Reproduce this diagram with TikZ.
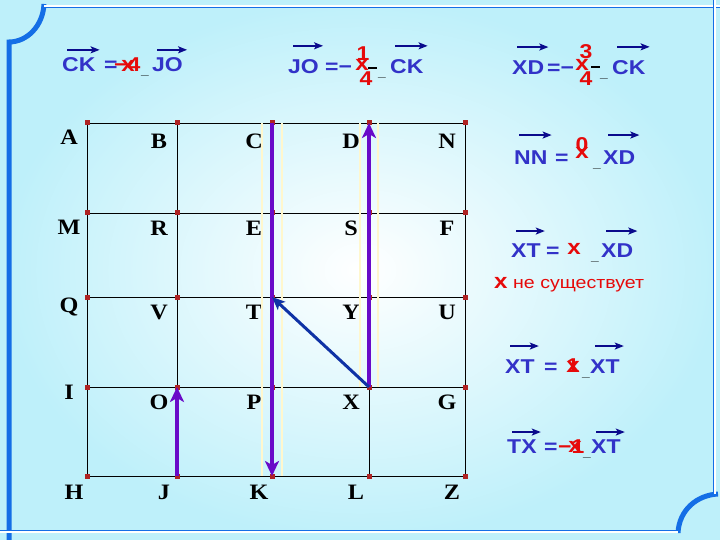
\documentclass[tikz,border=0pt]{standalone}
\usepackage{fontspec}
\setmainfont{Liberation Serif}
\newfontfamily\eqfont[FakeStretch=1.15]{Liberation Sans}
\newfontfamily\ptfont[FakeStretch=1.1]{Liberation Serif}
\usepackage{tikz}
\usetikzlibrary{arrows.meta}

\definecolor{eqblue}{RGB}{50,50,200}
\definecolor{barblue}{RGB}{10,10,140}
\definecolor{coefred}{RGB}{230,10,10}
\definecolor{vecpurple}{RGB}{105,10,200}
\definecolor{vecblue}{RGB}{15,50,165}
\definecolor{dotred}{RGB}{175,35,35}
\definecolor{framecol}{RGB}{20,110,230}
\definecolor{edgecyan}{RGB}{190,240,250}
\definecolor{glow}{RGB}{255,247,205}

\tikzset{
    eq/.style={font=\eqfont\bfseries\fontsize{20}{20}\selectfont, text=eqblue,
        inner sep=0pt, anchor=base west},
    coef/.style={font=\eqfont\bfseries\fontsize{20}{20}\selectfont, text=coefred,
        inner sep=0pt},
    coefx/.style={coef, font=\eqfont\bfseries\fontsize{21}{21}\selectfont},
    und/.style={font=\eqfont\bfseries\fontsize{12}{12}\selectfont, inner sep=0pt,
        anchor=base west},
    vecbar/.style={barblue, line width=1.5pt, -{Stealth[length=9pt, width=7pt, inset=2pt]}},
    fracbar/.style={black, line width=1.5pt},
    ptlabel/.style={font=\ptfont\bfseries\fontsize{22}{22}\selectfont, inner sep=0pt},
    gridpt/.style={rectangle, fill=dotred, minimum size=5pt, inner sep=0pt},
    gridline/.style={black, line width=0.8pt},
    vecline/.style={vecpurple, line width=4pt, -{Stealth[length=15pt, width=14pt, inset=4pt]}},
    glowline/.style={glow, line width=1.2pt},
    frameline/.style={draw=framecol, line width=0.8pt, double=white, double distance=2pt},
}

\newcommand{\arrowover}[2][10pt]{%
    \draw[vecbar] ([xshift=5pt, yshift=#1]#2.north west) -- ([xshift=4pt, yshift=#1]#2.north east);}

\begin{document}
\begin{tikzpicture}[x=1pt, y=-1pt]
    \useasboundingbox (0,0) rectangle (720,540);
    \shade[inner color=white, outer color=edgecyan] (0,0) rectangle (720,540);

    \draw[framecol, line width=5pt]
        (9,540) -- (9,42) .. controls (27,42) and (43,26) .. (44,4);
    \draw[framecol, line width=5pt]
        (678,533) .. controls (679,510) and (697,495) .. (718,494);
    \draw[frameline] (44,6.5) -- (720,6.5);
    \draw[frameline] (714.5,0) -- (714.5,494);
    \draw[frameline] (0,531.5) -- (678,531.5);

    \foreach \row [count=\j] in {{A,B,C,D,N},{M,R,E,S,F},{Q,V,T,Y,U},{I,O,P,X,G},{H,J,K,L,Z}}{
        \foreach \n [count=\i] in \row {
            \pgfmathsetmacro\x{{87,177,272,369,465}[\i-1]}
            \pgfmathsetmacro\y{{123,213,297,387,476}[\j-1]}
            \pgfmathsetmacro\dya{{14,14,10,5,16}[\j-1]}
            \pgfmathsetmacro\dyb{{18,15,15,15,16}[\j-1]}
            \pgfmathsetmacro\dy{\i==1 ? \dya : \dyb}
            \pgfmathsetmacro\dx{\j==5 ? -13 : -18}
            \coordinate (\n) at (\x,\y);
            \node[ptlabel] (lbl\n) at (\x+\dx,\y+\dy) {\n};
        }
    }
    \foreach \a/\b in {A/N, M/F, Q/U, I/G, H/Z, A/H, B/J, C/K, D/L, N/Z}
        \draw[gridline] (\a) -- (\b);
    \foreach \n in {A,B,C,D,N,M,R,E,S,F,Q,V,T,Y,U,I,O,P,X,G,H,J,K,L,Z}
        \node[gridpt] (pt\n) at (\n) {};

    \draw[glowline] ([xshift=-10pt]C) -- ([xshift=-10pt]K);
    \draw[glowline] ([xshift=10pt]C) -- ([xshift=10pt]K);
    \draw[glowline] ([xshift=-9pt]D) -- ([xshift=-9pt]X);
    \draw[glowline] ([xshift=9pt]D) -- ([xshift=9pt]X);

    \draw[vecline] (C) -- (K);
    \draw[vecline] (X) -- (D);
    \draw[vecline] (J) -- (O);
    \draw[vecblue, line width=3pt, -{Stealth[length=13pt, width=11pt, inset=3pt]}] (X) -- (T);

    \node[eq] (ck1) at (62,72) {CK};
    \node[eq] (eq1) at (104,72) {=};
    \node[coef, anchor=base west] (k1) at (114,72) {−4};
    \node[coefx] (k1x) at (128,66) {x};
    \node[und] (u1) at (141,75) {\_};
    \node[eq] (jo1) at (152,72) {JO};
    \arrowover[8pt]{ck1}
    \arrowover[8pt]{jo1}

    \node[eq] (jo2) at (288,74) {JO};
    \node[eq] (eq2) at (325,74) {=−};
    \node[coef] (k2n) at (363,54) {1};
    \node[coefx] (k2x) at (362,65) {x};
    \node[coef] (k2d) at (366,79) {4};
    \draw[fracbar] ([xshift=2pt, yshift=4pt]k2d.north) -- ([xshift=11pt, yshift=4pt]k2d.north);
    \node[und] (u2) at (378,77) {\_};
    \node[eq] (ck2) at (390,74) {CK};
    \arrowover[14pt]{jo2}
    \arrowover[14pt]{ck2}

    \node[eq] (xd3) at (512,75) {XD};
    \node[eq] (eq3) at (547,75) {=−};
    \node[coef] (k3n) at (586,52) {3};
    \node[coefx] (k3x) at (582,65) {x};
    \node[coef] (k3d) at (586,79) {4};
    \draw[fracbar] ([xshift=5pt, yshift=5pt]k3d.north) -- ([xshift=14pt, yshift=5pt]k3d.north);
    \node[und] (u3) at (600,78) {\_};
    \node[eq] (ck3) at (612,75) {CK};
    \arrowover[14pt]{xd3}
    \arrowover[14pt]{ck3}

    \node[eq] (nn4) at (514,165) {NN};
    \node[eq] (eq4) at (555,165) {=};
    \node[coef] (k4) at (582,145) {0};
    \node[coefx] (k4x) at (582,153) {x};
    \node[und] (u4) at (593,168) {\_};
    \node[eq] (xd4) at (603,165) {XD};
    \arrowover[16pt]{nn4}
    \arrowover[16pt]{xd4}

    \node[eq] (xt5) at (511,257) {XT};
    \node[eq] (eq5) at (546,257) {=};
    \node[coefx] (k5x) at (574,249) {x};
    \node[und] (u5) at (591,260) {\_};
    \node[eq] (xd5) at (601,257) {XD};
    \arrowover[12pt]{xt5}
    \arrowover[12pt]{xd5}

    \node[coef, font=\eqfont\bfseries\fontsize{21}{21}\selectfont, anchor=base west]
        (nx) at (494,288) {x};
    \node[coef, font=\eqfont\fontsize{17}{17}\selectfont, anchor=base west]
        (nexist) at (513,288) {не существует};

    \node[eq] (xt6) at (505,373) {XT};
    \node[eq] (eq6) at (544,373) {=};
    \node[coef] (k6) at (573,366) {1};
    \node[coefx] (k6x) at (573,367) {x};
    \node[und] (u6) at (582,376) {\_};
    \node[eq] (xt6b) at (590,373) {XT};
    \arrowover[13pt]{xt6}
    \arrowover[13pt]{xt6b}

    \node[eq] (tx7) at (507,453) {TX};
    \node[eq] (eq7) at (544,453) {=};
    \node[coef, anchor=base west] (k7) at (558,453) {−1};
    \node[coefx] (k7x) at (575,447) {x};
    \node[und] (u7) at (583,456) {\_};
    \node[eq] (xt7) at (591,453) {XT};
    \arrowover[7pt]{tx7}
    \arrowover[7pt]{xt7}
\end{tikzpicture}
\end{document}
